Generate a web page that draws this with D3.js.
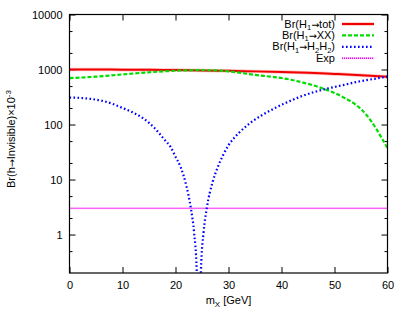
<!DOCTYPE html>
<html><head><meta charset="utf-8">
<script src="https://cdn.jsdelivr.net/npm/d3@7"></script>
<style>
html,body{margin:0;padding:0;background:#fff;}
svg{display:block;font-family:"Liberation Sans",Arial,sans-serif;}
</style></head>
<body><svg id="c" width="409" height="321"></svg>
<script>
// Data (m_X in GeV, Br x 10^-3)
const totM = [0, 5, 10, 15, 20, 25, 30, 35, 40, 45, 50, 55, 60];
const totV = [1000, 998, 993, 985, 975, 962, 945, 925, 903, 870, 830, 790, 742];
const xxM = [0, 5, 10, 15, 20, 24, 28, 30, 32, 35, 38, 40, 42, 44, 46, 48, 50, 52, 54, 56, 58, 59, 60];
const xxV = [700, 740, 815, 890, 950, 972, 960, 925, 875, 800, 740, 700, 645, 580, 515, 445, 375, 300, 230, 150, 80, 55, 37];
const hhM = [0, 2, 4, 6, 8, 10, 12, 14, 16, 18, 19, 20, 21, 22, 22.9, 23.5, 24, 24.4, 24.8, 25.3, 25.9, 27, 28, 29, 30, 31, 32, 34, 36, 38, 40, 42, 44, 46, 48, 50, 52, 54, 56, 58, 60];
const hhV = [310, 305, 292, 272, 240, 200, 165, 128, 87, 52, 40, 26, 16.6, 8, 3, 1.1, 0.22, 0.005, 0.22, 1.1, 3, 9, 17, 28, 42, 56, 71, 105, 142, 182, 228, 278, 333, 385, 435, 482, 530, 590, 640, 690, 745];
const expM = [0, 60];
const expV = [3, 3];
const xTicks = [0, 10, 20, 30, 40, 50, 60];
const yTicks = [1, 10, 100, 1000, 10000];
const yMinor = [0.5, 2, 5, 20, 50, 200, 500, 2000, 5000];

const svg = d3.select("#c");
const L = 69.5, R = 387.5, T = 14.5, B = 273;
const x = d3.scaleLinear().domain([0, 60]).range([L, R]);
const y = d3.scaleLog().domain([0.2, 10000]).range([B, T]);

svg.append("defs").append("clipPath").attr("id", "clip")
  .append("rect").attr("x", L).attr("y", T).attr("width", R - L).attr("height", B - T);

function styleAxis(g) {
  g.select(".domain").remove();
  g.selectAll("line").attr("stroke", "#000").attr("stroke-width", 1);
  g.selectAll("text").attr("font-size", 11).attr("fill", "#000")
    .attr("font-family", "'Liberation Sans',Arial,sans-serif");
}
// Left axis
svg.append("g").attr("transform", `translate(${L},0)`)
  .call(d3.axisLeft(y).tickValues(yTicks).tickFormat(d3.format("d")).tickSizeInner(-6).tickSizeOuter(0).tickPadding(7))
  .call(styleAxis);
svg.append("g").attr("transform", `translate(${L},0)`)
  .call(d3.axisLeft(y).tickValues(yMinor).tickFormat("").tickSizeInner(-3).tickSizeOuter(0))
  .call(styleAxis);
// Right axis
svg.append("g").attr("transform", `translate(${R},0)`)
  .call(d3.axisRight(y).tickValues(yTicks).tickFormat("").tickSizeInner(-6).tickSizeOuter(0))
  .call(styleAxis);
svg.append("g").attr("transform", `translate(${R},0)`)
  .call(d3.axisRight(y).tickValues(yMinor).tickFormat("").tickSizeInner(-3).tickSizeOuter(0))
  .call(styleAxis);
// Bottom axis
svg.append("g").attr("transform", `translate(0,${B})`)
  .call(d3.axisBottom(x).tickValues(xTicks).tickFormat(d3.format("d")).tickSizeInner(-6).tickSizeOuter(0).tickPadding(8))
  .call(styleAxis);
// Top axis
svg.append("g").attr("transform", `translate(0,${T})`)
  .call(d3.axisTop(x).tickValues(xTicks).tickFormat("").tickSizeInner(-6).tickSizeOuter(0))
  .call(styleAxis);

// Lines
const plot = svg.append("g").attr("clip-path", "url(#clip)");
function mkLine(M, V) {
  return d3.line().x((d, i) => x(M[i])).y((d, i) => y(Math.max(V[i], 1e-4))).curve(d3.curveMonotoneX)(M);
}
plot.append("path").attr("d", mkLine(expM, expV)).attr("fill", "none")
  .attr("stroke", "#ff90ff").attr("stroke-width", 2).attr("opacity", 0.5);
plot.append("path").attr("d", mkLine(expM, expV)).attr("fill", "none")
  .attr("stroke", "#ee00ee").attr("stroke-width", 1.3).attr("stroke-dasharray", "1,1");
plot.append("path").attr("d", mkLine(totM, totV)).attr("fill", "none")
  .attr("stroke", "#ff9a9a").attr("stroke-width", 3.5).attr("opacity", 0.6);
plot.append("path").attr("d", mkLine(totM, totV)).attr("fill", "none")
  .attr("stroke", "#f00000").attr("stroke-width", 2);
plot.append("path").attr("d", mkLine(xxM, xxV)).attr("fill", "none")
  .attr("stroke", "#00dd00").attr("stroke-width", 2.2).attr("stroke-dasharray", "4,2");
plot.append("path").attr("d", mkLine(hhM, hhV)).attr("fill", "none")
  .attr("stroke", "#0000ff").attr("stroke-width", 2.2).attr("stroke-dasharray", "1.6,2.4");

// Frame
svg.append("rect").attr("x", L).attr("y", T).attr("width", R - L).attr("height", B - T)
  .attr("fill", "none").attr("stroke", "#000").attr("stroke-width", 1.2);

// Legend
const legend = [
  {parts: [["Br(H", 0], ["1", 1], ["→", 2], ["tot)", 0]], color: "#f00000", dash: null, w: 2},
  {parts: [["Br(H", 0], ["1", 1], ["→", 2], ["XX)", 0]], color: "#00dd00", dash: "4,2", w: 2.2},
  {parts: [["Br(H", 0], ["1", 1], ["→", 2], ["H", 0], ["2", 1], ["H", 0], ["2", 1], [")", 0]], color: "#0000ff", dash: "1.6,2.4", w: 2.2},
  {parts: [["Exp", 0]], color: "#ee00ee", dash: "1,1", w: 1.4}
];
legend.forEach((l, i) => {
  const by = 27.5 + i * 11.4;
  const t = svg.append("text").attr("x", 335).attr("y", by).attr("text-anchor", "end")
    .attr("font-size", 11).attr("fill", "#000");
  let sub = false;
  l.parts.forEach(p => {
    const ts = t.append("tspan").text(p[0]);
    if (p[1] === 1) {
      ts.attr("font-size", 7.5);
      if (!sub) { ts.attr("dy", 2.5); sub = true; }
    } else {
      if (sub) { ts.attr("dy", -2.5); sub = false; }
      if (p[1] === 2) ts.attr("font-family", "'DejaVu Sans',sans-serif").attr("font-size", 9.5);
    }
  });
  const ly = by - 3.5;
  if (i === 0) svg.append("line").attr("x1", 342).attr("x2", 374).attr("y1", ly).attr("y2", ly)
    .attr("stroke", "#ff9a9a").attr("stroke-width", 3.5).attr("opacity", 0.6);
  if (i === 3) svg.append("line").attr("x1", 342).attr("x2", 374).attr("y1", ly).attr("y2", ly)
    .attr("stroke", "#ff90ff").attr("stroke-width", 2).attr("opacity", 0.5);
  svg.append("line").attr("x1", 342).attr("x2", 374).attr("y1", ly).attr("y2", ly)
    .attr("stroke", l.color).attr("stroke-width", l.w).attr("stroke-dasharray", l.dash);
});

// Axis labels
const xl = svg.append("text").attr("x", 228.5).attr("y", 304).attr("text-anchor", "middle")
  .attr("font-size", 11).attr("fill", "#000");
xl.append("tspan").text("m");
xl.append("tspan").text("X").attr("dy", 3).attr("font-size", 8);
xl.append("tspan").text(" [GeV]").attr("dy", -3);

const yl = svg.append("text").attr("transform", "translate(15,139) rotate(-90)")
  .attr("text-anchor", "middle").attr("font-size", 11).attr("fill", "#000");
yl.append("tspan").text("Br(h");
yl.append("tspan").text("→").attr("font-family", "'DejaVu Sans',sans-serif").attr("font-size", 9.5);
yl.append("tspan").text("Invisible)×10");
yl.append("tspan").text("-3").attr("dy", -4).attr("font-size", 8);
</script></body></html>
